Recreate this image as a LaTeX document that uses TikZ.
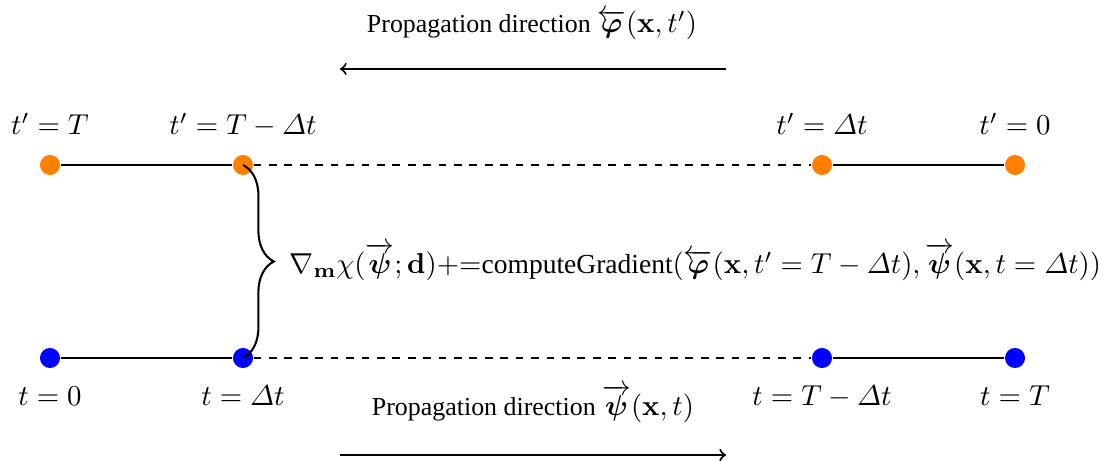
\RequirePackage{fix-cm}
\documentclass[tikz,border=0pt]{standalone}
\usepackage{amsmath}
\usepackage[no-math]{fontspec}
\setmainfont{Liberation Serif}[Scale=0.90]
\usetikzlibrary{decorations.pathreplacing}
\tikzset{
  dotA/.style={circle,fill=orange,inner sep=0pt,minimum size=7.8pt},
  dotB/.style={circle,fill=blue,inner sep=0pt,minimum size=7.8pt},
  tlabel/.style={anchor=base,inner sep=0pt},
  seg/.style={thick},
  dseg/.style={thick,dashed},
}
\newcommand{\gradtext}[1]{\text{\fontsize{11.9}{15}\selectfont #1}}
\begin{document}
\begin{tikzpicture}[x=0.389pt,y=-0.389pt,every node/.style={font=\fontsize{11.2}{14}\selectfont}]
\useasboundingbox (0,0) rectangle (1106,461);
% top row
\node[dotA] (a1) at (50,165) {};
\node[dotA] (a2) at (243,165) {};
\node[dotA] (a3) at (822,165) {};
\node[dotA] (a4) at (1015,165) {};
% bottom row
\node[dotB] (b1) at (50,358) {};
\node[dotB] (b2) at (243,358) {};
\node[dotB] (b3) at (822,358) {};
\node[dotB] (b4) at (1015,358) {};
\draw[seg] (a1) -- (a2);
\draw[dseg] (a2) -- (a3);
\draw[seg] (a3) -- (a4);
\draw[seg] (b1) -- (b2);
\draw[dseg] (b2) -- (b3);
\draw[seg] (b3) -- (b4);
% labels
\node[tlabel] (la1) at (50,135) {$t'=T$};
\node[tlabel] (la2) at (243,135) {$t'=T-\varDelta t$};
\node[tlabel] (la3) at (822,135) {$t'=\varDelta t$};
\node[tlabel] (la4) at (1015,135) {$t'=0$};
\node[tlabel] (lb1) at (50,405) {$t=0$};
\node[tlabel] (lb2) at (243,405) {$t=\varDelta t$};
\node[tlabel] (lb3) at (822,405) {$t=T-\varDelta t$};
\node[tlabel] (lb4) at (1015,405) {$t=T$};
% propagation labels and arrows
\node[tlabel] (ptop) at (532,33) {Propagation direction $\overleftarrow{\boldsymbol{\varphi}}(\mathbf{x},t')$};
\coordinate (ta) at (726,69);
\coordinate (tb) at (340,69);
\draw[thick,->] (ta) -- (tb);
\node[tlabel] (pbot) at (533,415) {Propagation direction $\overrightarrow{\boldsymbol{\psi}}(\mathbf{x},t)$};
\coordinate (ba) at (340,455);
\coordinate (bb) at (726,455);
\draw[thick,->] (ba) -- (bb);
% brace
\draw[thick,decorate,decoration={brace,amplitude=12pt,aspect=0.5}] (a2.center) -- (b2.center);
\node[anchor=west,inner sep=0pt] (grad) at (289,262) {$\nabla_{\mathbf{m}}\chi(\overrightarrow{\boldsymbol{\psi}};\mathbf{d}){+}{=}\gradtext{computeGradient}(\overleftarrow{\boldsymbol{\varphi}}(\mathbf{x},t'=T-\varDelta t),\overrightarrow{\boldsymbol{\psi}}(\mathbf{x},t=\varDelta t))$};
\end{tikzpicture}
\end{document}
